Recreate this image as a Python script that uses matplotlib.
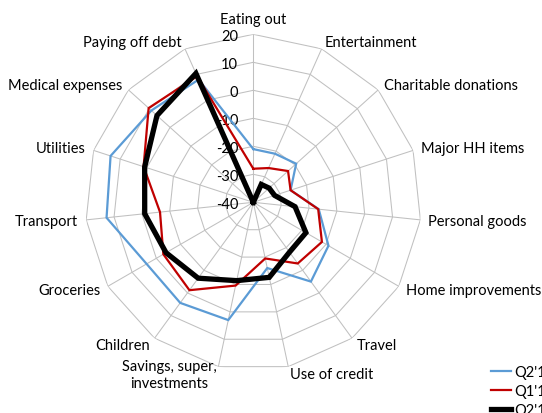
import numpy as np
import matplotlib
matplotlib.use("Agg")
import matplotlib.pyplot as plt

plt.rcParams['font.family'] = ['Lato', 'DejaVu Sans']

categories = ["Eating out", "Entertainment", "Charitable donations", "Major HH items",
              "Personal goods", "Home improvements", "Travel", "Use of credit",
              "Savings, super,\ninvestments", "Children", "Groceries", "Transport",
              "Utilities", "Medical expenses", "Paying off debt"]

series_names = ["Q2'15", "Q1'16", "Q2'16"]
q2_15 = [-21, -21, -19.4, -26, -16.5, -9, -5, -16, 3, 4.4, 4, 12.7, 13.6, 9, 8]
q1_16 = [-28, -26.6, -23.3, -26, -16.7, -11.7, -13, -19.5, -9.6, -1.2, -2.9, -6.5, 1.2, 10.3, 9.3]
q2_16 = [-40, -33, -32.4, -32, -25, -18.3, -18, -12.6, -11.4, -6.5, -4, -1, 0.8, 6.3, 10.4]

r_ticks = [-40, -30, -20, -10, 0, 10, 20]

colors = ["#5b9bd5", "#c00000", "#000000"]
widths = [1.6, 1.6, 3.8]

n = len(categories)
theta = np.arange(n) * 2 * np.pi / n
theta_c = np.append(theta, theta[0])

fig = plt.figure(figsize=(5.42, 4.14), dpi=100)
ax = fig.add_axes([0.1574, 0.1031, 0.6199, 0.8116], projection='polar')
ax.set_theta_zero_location('N')
ax.set_theta_direction(-1)
ax.set_ylim(r_ticks[0], r_ticks[-1])
ax.grid(False)
ax.spines['polar'].set_visible(False)
ax.set_xticks([])
ax.set_yticks([])
ax.patch.set_alpha(0)

grid_col = "#c0c0c0"
# polygon gridlines
for lv in r_ticks[1:]:
    ax.plot(theta_c, [lv] * (n + 1), color=grid_col, lw=0.75, zorder=1)
# spokes
for t in theta:
    ax.plot([t, t], [r_ticks[0], r_ticks[-1]], color=grid_col, lw=0.75, zorder=1)

# radial tick labels along the top spoke
for lv in r_ticks:
    ax.annotate(f"{lv}", xy=(0, lv), xytext=(-11, -1), textcoords='offset points',
                ha='right', va='center', fontsize=10.5, color='#000000')

# category labels
for t, lab in zip(theta, categories):
    s = np.sin(t)
    if abs(s) < 0.05:
        ha, va = 'center', 'bottom'
    elif s > 0:
        ha, va = 'left', 'center'
    else:
        ha, va = 'right', 'center'
    ax.annotate(lab, xy=(t, r_ticks[-1]), xytext=(8 * s / 1.389, 8 * np.cos(t) / 1.389),
                textcoords='offset points', ha=ha, va=va, fontsize=10.5,
                multialignment='center', annotation_clip=False)

handles = []
for vals, c, w, name in zip([q2_15, q1_16, q2_16], colors, widths, series_names):
    v = np.append(vals, vals[0])
    h, = ax.plot(theta_c, v, color=c, lw=w, zorder=3, solid_joinstyle='miter',
                 label=name)
    handles.append(h)

fig.legend(handles=handles, labels=series_names, loc='upper left',
           bbox_to_anchor=(0.905, 0.115), frameon=False, fontsize=10.5,
           handlelength=1.4, handletextpad=0.2, labelspacing=0.32,
           borderaxespad=0, borderpad=0)

fig.savefig("out.png", dpi=100)
